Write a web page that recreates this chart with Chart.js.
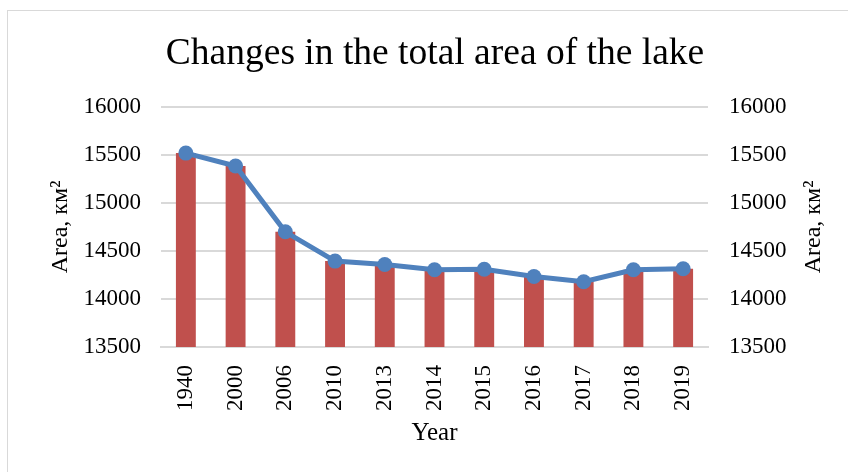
<!DOCTYPE html>
<html>
<head>
<meta charset="utf-8">
<script src="https://cdn.jsdelivr.net/npm/chart.js@4/dist/chart.umd.min.js"></script>
<style>
    html, body { margin: 0; padding: 0; background: #fff; overflow: hidden; width: 848px; height: 472px; }
    #frame { position: absolute; left: 7px; top: 10px; width: 860px; height: 480px; border: 1px solid #d9d9d9; }
    /* the chart frame runs past the window edge, so the canvas does too; the title centres on it */
    #wrap { position: absolute; left: 0; top: 0; width: 870px; height: 472px; }
</style>
</head>
<body>
<div id="frame"></div>
<div id="wrap"><canvas id="lakeChart"></canvas></div>
<script>
// Lake area by year (km²), bars on left axis, line on right axis
const years = ['1940', '2000', '2006', '2010', '2013', '2014', '2015', '2016', '2017', '2018', '2019'];
const barArea = [15520, 15385, 14700, 14395, 14360, 14305, 14310, 14235, 14180, 14305, 14315];
const lineArea = [15520, 15385, 14700, 14395, 14360, 14305, 14310, 14235, 14180, 14305, 14315];
const axisMin = 13500;
const axisMax = 16000;
const axisStep = 500;

const serif = '"Liberation Serif", "Times New Roman", serif';
const gridColor = '#d9d9d9';

// Chart.js has no option for the right-hand title to read bottom-to-top, so draw it here
const rightTitle = {
    id: 'rightTitle',
    afterDraw(chart) {
        const area = chart.chartArea;
        const ctx = chart.ctx;
        ctx.save();
        ctx.translate(814, (area.top + area.bottom) / 2);
        ctx.rotate(-Math.PI / 2);
        ctx.fillStyle = '#000';
        ctx.font = '24px ' + serif;
        ctx.textAlign = 'center';
        ctx.textBaseline = 'middle';
        ctx.fillText('Area, км²', 0, 0);
        ctx.restore();
    }
};

const plainNumber = value => String(value);

const ctx = document.getElementById('lakeChart').getContext('2d');
new Chart(ctx, {
    type: 'bar',
    data: {
        labels: years,
        datasets: [
            {
                type: 'line',
                label: 'Area (line)',
                data: lineArea,
                yAxisID: 'y2',
                borderColor: '#4F81BD',
                backgroundColor: '#4F81BD',
                borderWidth: 5,
                pointRadius: 7.5,
                pointBorderWidth: 0,
                pointBackgroundColor: '#4F81BD',
                tension: 0,
                order: 0
            },
            {
                label: 'Area',
                data: barArea,
                yAxisID: 'y',
                backgroundColor: '#C0504D',
                barPercentage: 0.4,
                categoryPercentage: 1.0,
                order: 1
            }
        ]
    },
    options: {
        responsive: true,
        maintainAspectRatio: false,
        animation: false,
        layout: { padding: 0 },
        plugins: {
            legend: { display: false },
            tooltip: { enabled: false },
            title: {
                display: true,
                text: 'Changes in the total area of the lake',
                color: '#000',
                font: { family: serif, size: 37.5, weight: 'normal' },
                padding: { top: 32, bottom: 30 }
            }
        },
        scales: {
            x: {
                grid: { display: false },
                border: { display: true, color: gridColor, width: 2 },
                ticks: {
                    color: '#000',
                    font: { family: serif, size: 23 },
                    minRotation: 90,
                    maxRotation: 90,
                    padding: 10
                },
                title: {
                    display: true,
                    text: 'Year',
                    color: '#000',
                    font: { family: serif, size: 25 },
                    padding: { top: 0, bottom: 24 }
                },
                afterFit: function(scale) { scale.height = 125; }
            },
            y: {
                position: 'left',
                min: axisMin,
                max: axisMax,
                grid: { color: gridColor, lineWidth: 2, drawTicks: false },
                border: { display: false },
                ticks: {
                    stepSize: axisStep,
                    callback: plainNumber,
                    color: '#000',
                    font: { family: serif, size: 23 },
                    padding: 20
                },
                title: {
                    display: true,
                    text: 'Area, км²',
                    color: '#000',
                    font: { family: serif, size: 24 },
                    padding: { top: 46, bottom: 0 }
                },
                afterFit: function(scale) { scale.width = 161; }
            },
            y2: {
                position: 'right',
                min: axisMin,
                max: axisMax,
                grid: { display: false, drawTicks: false },
                border: { display: false },
                ticks: {
                    stepSize: axisStep,
                    callback: plainNumber,
                    color: '#000',
                    font: { family: serif, size: 23 },
                    padding: 21
                },
                afterFit: function(scale) { scale.width = 162; }
            }
        }
    },
    plugins: [rightTitle]
});
</script>
</body>
</html>
